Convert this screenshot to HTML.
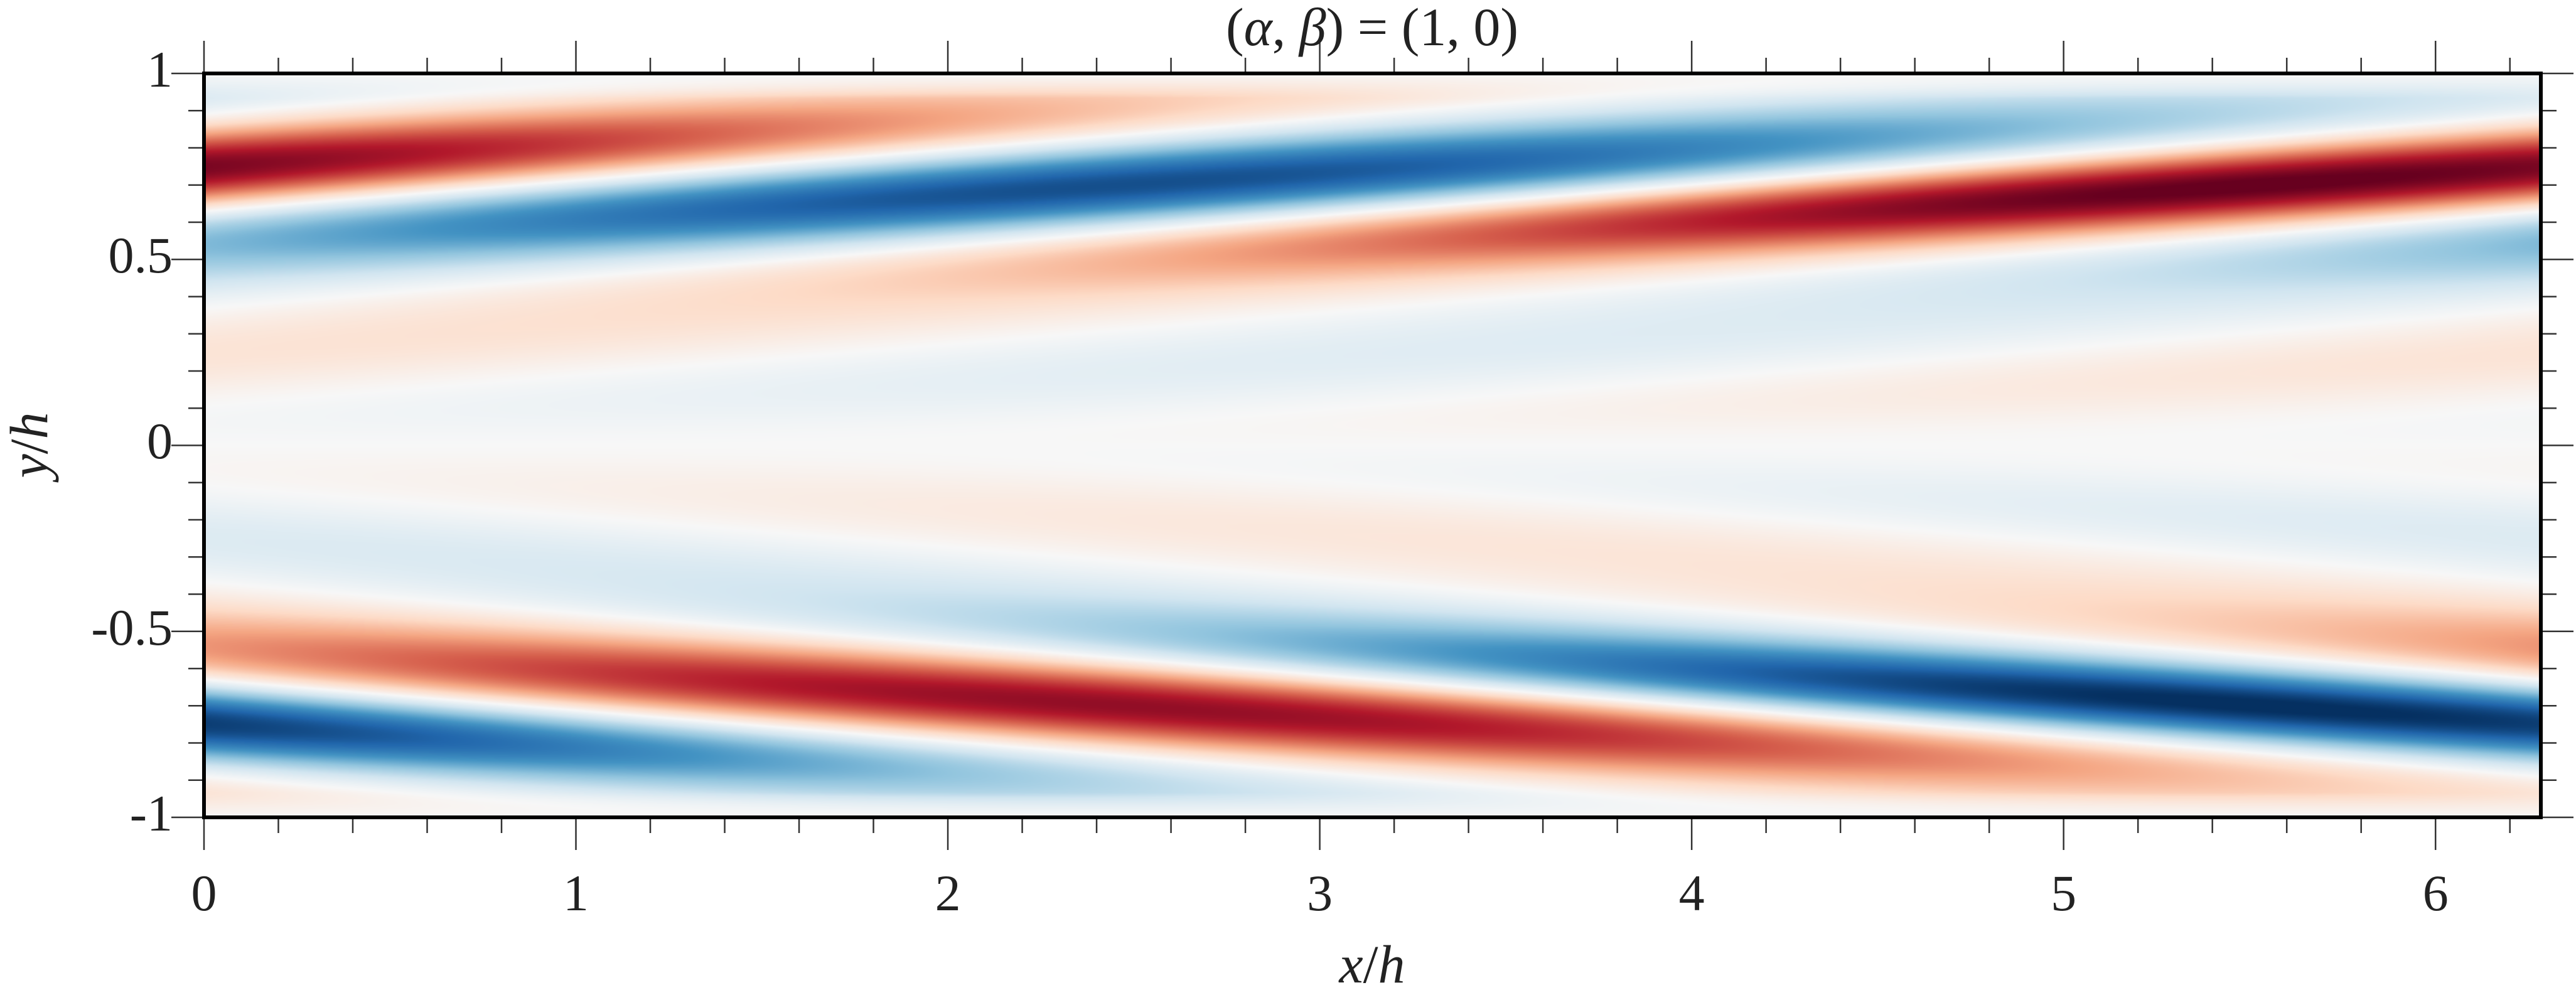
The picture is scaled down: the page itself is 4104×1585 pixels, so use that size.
<!DOCTYPE html>
<html><head><meta charset="utf-8"><style>
html,body{margin:0;padding:0;background:#fff;}
#wrap{position:relative;width:4104px;height:1585px;overflow:hidden;background:#fff;}
canvas{position:absolute;left:325px;top:117px;}
svg{position:absolute;left:0;top:0;}
text{font-family:"Liberation Serif","DejaVu Serif",serif;fill:#222;}
</style></head><body>
<div id="wrap">
<canvas id="c" width="3723" height="1185"></canvas>
<svg id="s" width="4104" height="1585" xmlns="http://www.w3.org/2000/svg">
<g id="ticks" stroke="#333" stroke-width="2.5"></g>
<rect x="325" y="117" width="3723" height="1185" fill="none" stroke="#000" stroke-width="6"/>
<g font-size="82">
<text x="275" y="138" text-anchor="end">1</text>
<text x="275" y="434" text-anchor="end">0.5</text>
<text x="275" y="730" text-anchor="end">0</text>
<text x="275" y="1027" text-anchor="end">-0.5</text>
<text x="275" y="1323" text-anchor="end">-1</text>
</g>
<g font-size="82" text-anchor="middle" id="xl"></g>
<text x="2186" y="72" font-size="86" text-anchor="middle">(<tspan font-style="italic">α</tspan>, <tspan font-style="italic">β</tspan>) = (1, 0)</text>
<text x="2186" y="1565" font-size="86" text-anchor="middle"><tspan font-style="italic">x</tspan>/<tspan font-style="italic">h</tspan></text>
<text transform="translate(75,709) rotate(-90)" font-size="86" text-anchor="middle"><tspan font-style="italic">y</tspan>/<tspan font-style="italic">h</tspan></text>
</svg>
</div>
<script>
(function(){
var L=325,T=117,W=3723,H=1185,R=L+W,B=T+H,sx=W/(2*Math.PI),sy=H/2;
var g=document.getElementById('ticks'),s='';
function ln(x1,y1,x2,y2){s+='<line x1="'+x1+'" y1="'+y1+'" x2="'+x2+'" y2="'+y2+'"/>';}
for(var i=0;i<=31;i++){var v=i*0.2;if(v>2*Math.PI+1e-6)break;var x=L+v*sx;var maj=(i%5==0);var len=maj?52:25;ln(x,B,x,B+len);ln(x,T,x,T-len);}
for(var j=0;j<=20;j++){var yv=1-j*0.1;var y=T+(1-yv)*sy;var maj=(j%5==0);var len=maj?52:25;ln(L,y,L-len,y);ln(R,y,R+len,y);}
g.innerHTML=s;
var xl='';for(var k=0;k<=6;k++){xl+='<text x="'+(L+k*sx)+'" y="1450">'+k+'</text>';}
document.getElementById('xl').innerHTML=xl;
var stops=[[0x05,0x30,0x61],[0x21,0x66,0xac],[0x43,0x93,0xc3],[0x92,0xc5,0xde],[0xd1,0xe5,0xf0],[0xf7,0xf7,0xf7],[0xfd,0xdb,0xc7],[0xf4,0xa5,0x82],[0xd6,0x60,0x4d],[0xb2,0x18,0x2b],[0x67,0x00,0x1f]];
function cm(v){v=Math.max(-1,Math.min(1,v));var t=(v+1)*5;var i=Math.min(9,Math.floor(t));var f=t-i;var a=stops[i],b=stops[i+1];return [a[0]+(b[0]-a[0])*f,a[1]+(b[1]-a[1])*f,a[2]+(b[2]-a[2])*f];}
var c=document.getElementById('c'),ctx=c.getContext('2d');var img=ctx.createImageData(W,H);var d=img.data;
var xs=new Float64Array(W);for(var px=0;px<W;px++)xs[px]=(px+0.5)/sx;
for(var py=0;py<H;py++){var y=1-(py+0.5)/sy;var ay=Math.abs(y);var sg=Math.tanh(y/0.08);
var A=0.95*Math.exp(-Math.pow((ay-0.7)/0.21,2))+0.12*Math.exp(-Math.pow((ay-0.25)/0.22,2));
A*=Math.min(1,(1-ay)/0.07+0.05);
var ph=2*Math.PI+12*(ay-0.76);
for(var px=0;px<W;px++){var x=xs[px];
var amp=A*(1+0.08*Math.cos(x-ph+0.5));
var v=sg*amp*Math.cos(x-ph);var col=cm(v);var o=(py*W+px)*4;d[o]=col[0];d[o+1]=col[1];d[o+2]=col[2];d[o+3]=255;}}
ctx.putImageData(img,0,0);
})();
</script>
</body></html>
